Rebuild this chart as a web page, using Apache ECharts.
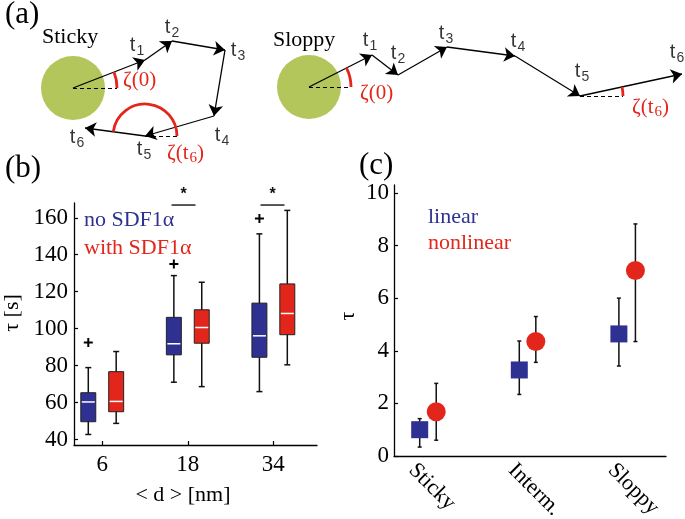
<!DOCTYPE html>
<html><head><meta charset="utf-8">
<script src="https://cdn.jsdelivr.net/npm/echarts@6/dist/echarts.min.js"></script>
<style>html,body{margin:0;padding:0;background:#fff}#c{width:685px;height:519px}</style>
</head><body><div id="c"></div>
<script>
// ---------- Panel (b): box plots ----------
const bCategories = ['6', '18', '34'];
const bTicks = [40, 60, 80, 100, 120, 140, 160];
// [whiskerLow, q1, median, q3, whiskerHigh]
const bNoSDF = [[42.7, 49.6, 60.3, 65.3, 78.9], [71.0, 85.8, 91.8, 106.1, 128.7], [65.9, 84.5, 96.1, 113.8, 151.3]];
const bWithSDF = [[48.7, 55.0, 60.6, 76.7, 87.6], [68.6, 92.1, 100.6, 110.2, 125.1], [80.4, 96.7, 108.2, 124.2, 164.0]];
const bOutliersNo = [[1, 92.5], [2, 135.0], [3, 159.6]];
const bSignif = [[1.95, 166.9], [2.99, 166.9]];
// ---------- Panel (c): tau per regime ----------
const cCategories = ['Sticky', 'Interm.', 'Sloppy'];
const cTicks = [0, 2, 4, 6, 8, 10];
const cLinear = [1.0, 3.27, 4.64];
const cLinearErr = [[0.34, 1.42], [2.34, 4.37], [3.42, 6.0]];
const cNonlinear = [1.68, 4.35, 7.05];
const cNonlinearErr = [[0.60, 2.76], [3.56, 5.30], [4.35, 8.82]];
// ---------- Panel (a): schematic trajectories ----------
const stickyPath = [[73, 88], [145, 60], [172, 41], [225, 50], [214, 116], [145, 136], [85, 128]];
const sloppyPath = [[309, 87], [372, 55], [398, 75], [447, 47], [515, 56], [580, 96], [682, 74]];
const stepLabels = ['1', '2', '3', '4', '5', '6'];
const stickyArcRadii = [44, 32];
const sloppyArcRadii = [42, 43];

// ---------- styles ----------
const SERIF = "'Liberation Serif', 'Times New Roman', Times, serif";
const SANS = "'Liberation Sans', Arial, sans-serif";
const BLUE = '#2e3192', RED = '#e3261b', GREEN = '#b3c65c';
const stickyLabelOff = [[-8, -15], [0, -14], [13, 0], [8, 19], [-1, 13], [-8, 9]];
const sloppyLabelOff = [[-2, -15], [0, -22], [-1, -14], [3, -15], [2, -25], [-5, -22]];

function segs(path) {
  const out = [];
  for (let i = 0; i < path.length - 1; i++) out.push({ coords: [path[i], path[i + 1]] });
  return out;
}
function angleOf(a, b) { return Math.atan2(a[1] - b[1], b[0] - a[0]); }
function arcsFor(path, radii) {
  const n = path.length;
  return [
    [path[0][0], path[0][1], radii[0], angleOf(path[0], path[1])],
    [path[n - 2][0], path[n - 2][1], radii[1], angleOf(path[n - 2], path[n - 1])]
  ];
}
function dashFor(path, radii) {
  const n = path.length;
  return [
    { coords: [path[0], [path[0][0] + radii[0], path[0][1]]] },
    { coords: [path[n - 2], [path[n - 2][0] + radii[1], path[n - 2][1]]] }
  ];
}
function labelData(path, offs) {
  return path.slice(1).map((p, i) => ({
    value: p,
    label: { offset: offs[i], formatter: 't{s|' + stepLabels[i] + '}' }
  }));
}

const axisLineStyle = { show: true, onZero: false, lineStyle: { color: '#000', width: 1.3 } };
const labelFont = { fontFamily: SERIF, fontSize: 23, color: '#000' };

const series = [];
// schematic
[[stickyPath, stickyArcRadii, stickyLabelOff], [sloppyPath, sloppyArcRadii, sloppyLabelOff]].forEach(([path, radii, offs]) => {
  series.push({
    type: 'scatter', xAxisIndex: 0, yAxisIndex: 0, symbolSize: 64, z: 1,
    itemStyle: { color: GREEN, opacity: 1 }, data: [path[0]], silent: true
  });
  series.push({
    type: 'lines', coordinateSystem: 'cartesian2d', xAxisIndex: 0, yAxisIndex: 0, z: 3,
    symbol: ['none', 'arrow'], symbolSize: [0, 11],
    lineStyle: { color: '#000', width: 1.3, opacity: 1 }, data: segs(path)
  });
  series.push({
    type: 'lines', coordinateSystem: 'cartesian2d', xAxisIndex: 0, yAxisIndex: 0, z: 3,
    symbol: 'none', lineStyle: { color: '#000', width: 1, type: [4, 3], opacity: 1 }, data: dashFor(path, radii)
  });
  series.push({
    type: 'custom', xAxisIndex: 0, yAxisIndex: 0, z: 4, data: arcsFor(path, radii),
    renderItem: function (params, api) {
      const c = api.coord([api.value(0), api.value(1)]);
      const r = api.size([api.value(2), 0])[0];
      const a = api.value(3);
      return {
        type: 'arc',
        shape: { cx: c[0], cy: c[1], r: r, startAngle: -a, endAngle: 0, clockwise: true },
        style: { stroke: RED, lineWidth: 2.8, fill: 'none' }
      };
    }
  });
  series.push({
    type: 'scatter', xAxisIndex: 0, yAxisIndex: 0, symbolSize: 0, z: 5,
    data: labelData(path, offs),
    label: {
      show: true, position: 'inside', color: '#000', fontFamily: SANS, fontSize: 20,
      rich: { s: { fontFamily: SANS, fontSize: 14, color: '#000', padding: [12, 0, 0, 1] } }
    }
  });
});

// panel (b) boxes
const BOX_W = 0.175, BOX_OFF = 0.163;
function boxRender(offset, fill) {
  return function (params, api) {
    const x = api.value(0) + offset;
    const v = [1, 2, 3, 4, 5].map(i => api.value(i));
    const p = v.map(val => api.coord([x, val]));
    const hw = api.size([BOX_W, 0])[0] / 2;
    const cap = 3;
    const ls = { stroke: '#111', lineWidth: 1.5 };
    return {
      type: 'group', children: [
        { type: 'line', shape: { x1: p[0][0], y1: p[0][1], x2: p[4][0], y2: p[4][1] }, style: ls },
        { type: 'line', shape: { x1: p[0][0] - cap, y1: p[0][1], x2: p[0][0] + cap, y2: p[0][1] }, style: ls },
        { type: 'line', shape: { x1: p[4][0] - cap, y1: p[4][1], x2: p[4][0] + cap, y2: p[4][1] }, style: ls },
        { type: 'rect', shape: { x: p[3][0] - hw, y: p[3][1], width: 2 * hw, height: p[1][1] - p[3][1] }, style: { fill: fill, stroke: '#222', lineWidth: 1 } },
        { type: 'line', shape: { x1: p[2][0] - hw + 1, y1: p[2][1], x2: p[2][0] + hw - 1, y2: p[2][1] }, style: { stroke: '#fff', lineWidth: 1.5 } }
      ]
    };
  };
}
series.push({ type: 'custom', xAxisIndex: 1, yAxisIndex: 1, data: bNoSDF.map((d, i) => [i + 1].concat(d)), renderItem: boxRender(-BOX_OFF, BLUE) });
series.push({ type: 'custom', xAxisIndex: 1, yAxisIndex: 1, data: bWithSDF.map((d, i) => [i + 1].concat(d)), renderItem: boxRender(BOX_OFF, RED) });
series.push({
  type: 'scatter', xAxisIndex: 1, yAxisIndex: 1, symbol: 'path://M-1,-0.22H1V0.22H-1Z M-0.22,-1H0.22V1H-0.22Z', symbolSize: 9,
  itemStyle: { color: '#000', opacity: 1 }, data: bOutliersNo.map(d => [d[0] - BOX_OFF, d[1]])
});
series.push({
  type: 'custom', xAxisIndex: 1, yAxisIndex: 1, clip: false, data: bSignif,
  renderItem: function (params, api) {
    const a = api.coord([api.value(0) - 0.14, api.value(1)]);
    const b = api.coord([api.value(0) + 0.14, api.value(1)]);
    return {
      type: 'group', children: [
        { type: 'line', shape: { x1: a[0], y1: a[1], x2: b[0], y2: b[1] }, style: { stroke: '#111', lineWidth: 1.4 } },
        { type: 'text', style: { x: (a[0] + b[0]) / 2, y: a[1] - 10, text: '*', font: 'bold 16px ' + SANS, fill: '#111', align: 'center', verticalAlign: 'middle' } }
      ]
    };
  }
});

// panel (c)
const C_OFF = 0.083;
function errRender(offset) {
  return function (params, api) {
    const x = api.value(0) + offset;
    const lo = api.coord([x, api.value(1)]);
    const hi = api.coord([x, api.value(2)]);
    const ls = { stroke: '#111', lineWidth: 1.5 };
    return {
      type: 'group', children: [
        { type: 'line', shape: { x1: lo[0], y1: lo[1], x2: hi[0], y2: hi[1] }, style: ls },
        { type: 'line', shape: { x1: lo[0] - 2, y1: lo[1], x2: lo[0] + 2, y2: lo[1] }, style: ls },
        { type: 'line', shape: { x1: hi[0] - 2, y1: hi[1], x2: hi[0] + 2, y2: hi[1] }, style: ls }
      ]
    };
  };
}
series.push({ type: 'custom', xAxisIndex: 2, yAxisIndex: 2, z: 1, data: cLinearErr.map((d, i) => [i + 1, d[0], d[1]]), renderItem: errRender(-C_OFF) });
series.push({ type: 'custom', xAxisIndex: 2, yAxisIndex: 2, z: 1, data: cNonlinearErr.map((d, i) => [i + 1, d[0], d[1]]), renderItem: errRender(C_OFF) });
series.push({ type: 'scatter', xAxisIndex: 2, yAxisIndex: 2, z: 3, symbol: 'rect', symbolSize: 17, itemStyle: { color: BLUE, opacity: 1 }, data: cLinear.map((v, i) => [i + 1 - C_OFF, v]) });
series.push({ type: 'scatter', xAxisIndex: 2, yAxisIndex: 2, z: 3, symbol: 'circle', symbolSize: 19, itemStyle: { color: RED, opacity: 1 }, data: cNonlinear.map((v, i) => [i + 1 + C_OFF, v]) });

function txt(x, y, text, opts) {
  return Object.assign({ type: 'text', x: x, y: y, silent: true, z: 100 }, opts || {}, {
    style: Object.assign({ text: text, fill: '#000', font: '22px ' + SERIF, align: 'left', verticalAlign: 'middle' }, (opts && opts.style) || {})
  });
}
const zetaRich = { s: { fontFamily: SERIF, fontSize: 15, fill: RED, padding: [11, 0, 0, 1] } };

const option = {
  animation: false,
  backgroundColor: '#fff',
  grid: [
    { left: 0, top: 0, width: 685, height: 519, outerBoundsMode: 'none', containLabel: false },
    { left: 74, top: 203, width: 243, height: 242, outerBoundsMode: 'none', containLabel: false },
    { left: 394, top: 185, width: 272, height: 271, outerBoundsMode: 'none', containLabel: false }
  ],
  xAxis: [
    { gridIndex: 0, type: 'value', min: 0, max: 685, show: false },
    {
      gridIndex: 1, type: 'value', min: 0.67, max: 3.51, axisLine: axisLineStyle, splitLine: { show: false },
      axisTick: { show: true, inside: true, length: 4, lineStyle: { color: '#000', width: 1.2 }, customValues: [1, 2, 3] },
      axisLabel: Object.assign({ customValues: [1, 2, 3], margin: 8, formatter: v => bCategories[Math.round(v) - 1] }, labelFont)
    },
    {
      gridIndex: 2, type: 'value', min: 0.659, max: 3.39, axisLine: axisLineStyle, splitLine: { show: false },
      axisTick: { show: false },
      axisLabel: Object.assign({ customValues: [0.84, 1.84, 2.84], rotate: -45, margin: 11, formatter: v => cCategories[Math.round(v + 0.16) - 1] }, labelFont, { fontSize: 22 })
    }
  ],
  yAxis: [
    { gridIndex: 0, type: 'value', min: 0, max: 519, inverse: true, show: false },
    {
      gridIndex: 1, type: 'value', min: 37, max: 168, axisLine: axisLineStyle, splitLine: { show: false },
      axisTick: { show: true, inside: true, length: 4, lineStyle: { color: '#000', width: 1.2 }, customValues: bTicks },
      axisLabel: Object.assign({ customValues: bTicks, margin: 6 }, labelFont)
    },
    {
      gridIndex: 2, type: 'value', min: 0, max: 10.3, axisLine: axisLineStyle, splitLine: { show: false },
      axisTick: { show: true, inside: true, length: 4, lineStyle: { color: '#000', width: 1.2 }, customValues: cTicks },
      axisLabel: Object.assign({ customValues: cTicks, margin: 5 }, labelFont)
    }
  ],
  series: series,
  graphic: [
    txt(5, 15, '(a)', { style: { font: '31px ' + SERIF } }),
    txt(5, 169, '(b)', { style: { font: '31px ' + SERIF } }),
    txt(359, 166, '(c)', { style: { font: '31px ' + SERIF } }),
    txt(42, 37, 'Sticky'),
    txt(273, 40, 'Sloppy'),
    txt(123, 80, 'ζ(0)', { style: { fill: RED, font: '21px ' + SERIF } }),
    txt(167, 153, 'ζ(t{s|6})', { style: { fill: RED, font: '21px ' + SERIF, rich: zetaRich } }),
    txt(360, 93, 'ζ(0)', { style: { fill: RED, font: '21px ' + SERIF } }),
    txt(632, 107, 'ζ(t{s|6})', { style: { fill: RED, font: '21px ' + SERIF, rich: zetaRich } }),
    txt(84, 220, 'no SDF1α', { style: { fill: BLUE, font: '22px ' + SERIF } }),
    txt(84, 248, 'with SDF1α', { style: { fill: RED, font: '22px ' + SERIF } }),
    txt(428, 217, 'linear', { style: { fill: BLUE, font: '22px ' + SERIF } }),
    txt(428, 243, 'nonlinear', { style: { fill: RED, font: '22px ' + SERIF } }),
    txt(183, 495, '< d > [nm]', { style: { align: 'center' } }),
    txt(12, 313, 'τ [s]', { rotation: Math.PI / 2, style: { align: 'center' } }),
    txt(348, 316, 'τ', { rotation: Math.PI / 2, style: { align: 'center' } })
  ]
};
const chart = echarts.init(document.getElementById('c'));
chart.setOption(option);
</script>
</body></html>
